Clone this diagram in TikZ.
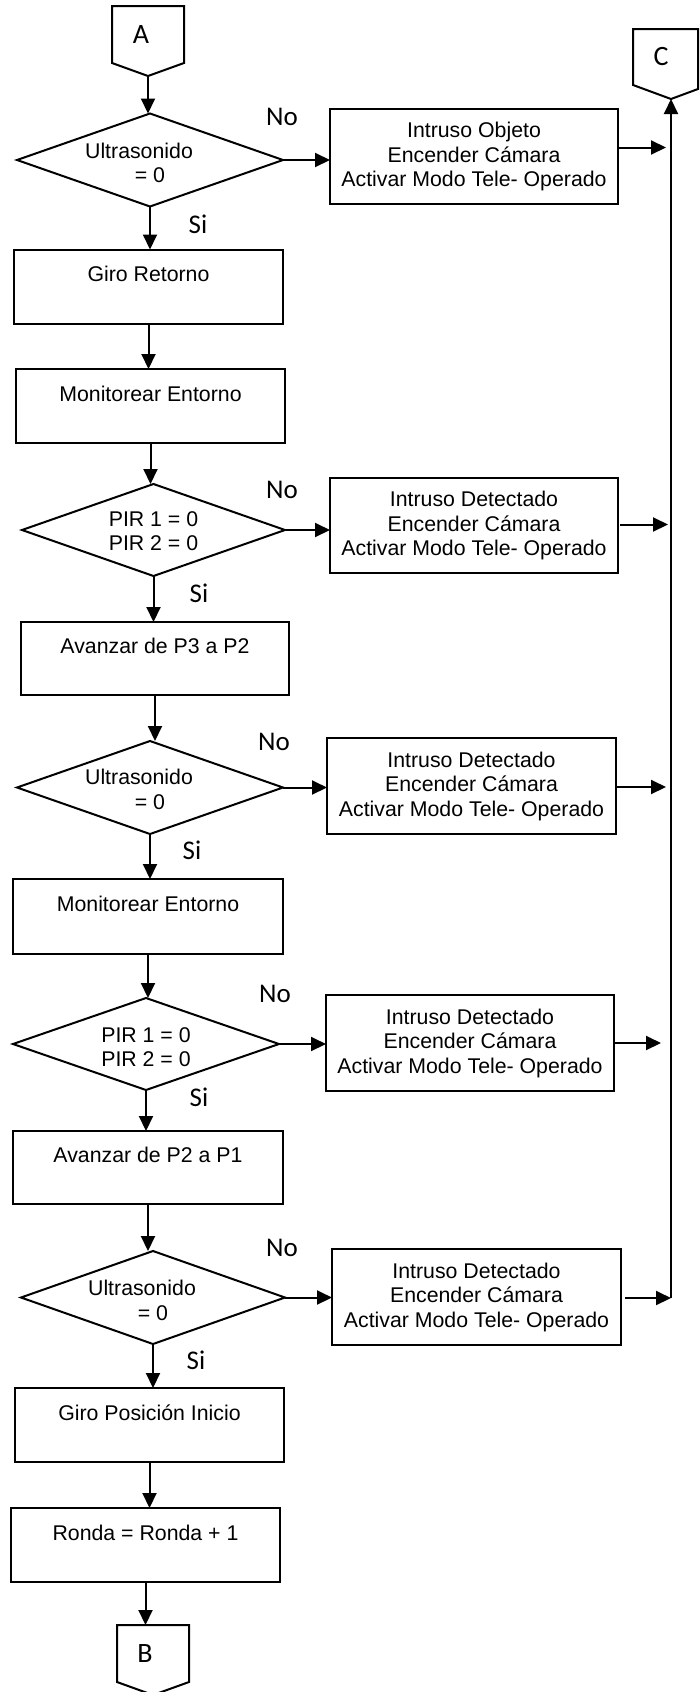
\documentclass[tikz,border=0pt]{standalone}
\usepackage{fontspec}
\setmainfont{Liberation Sans}
\newfontfamily\carlito{Carlito}
\usetikzlibrary{shapes.geometric,arrows.meta,calc}
\tikzset{
  every node/.style={inner sep=0pt,outer sep=0pt},
  txt/.style={align=center,font=\fontsize{21.3}{24.5}\selectfont},
  lbox/.style={txt,draw,line width=2pt,minimum width=269pt,minimum height=74pt},
  rbox/.style={txt,draw,line width=2pt,minimum width=288pt,minimum height=95pt},
  dec/.style={draw,diamond,line width=2pt,minimum width=266pt,minimum height=93pt},
  lab/.style={font=\carlito\fontsize{27}{32}\selectfont},
  conlab/.style={font=\carlito\fontsize{28}{32}\selectfont},
  arr/.style={line width=2pt,-{Triangle[length=15pt,width=14pt]}},
  conn/.style={draw,line width=2pt,line join=miter},
}
\begin{document}
\begin{tikzpicture}[x=1pt,y=-1pt]
\useasboundingbox (0,0) rectangle (699,1692);

% connector A
\node[conlab,minimum width=72pt,minimum height=57pt] (A) at (148,34.5) {A\hspace*{14pt}};
\draw[conn] (A.north west) -- (A.north east) -- (A.south east) -- ($(A.south)+(0,13)$) coordinate (Atip) -- (A.south west) -- cycle;

% connector C
\node[conlab,minimum width=65pt,minimum height=56pt] (C) at (665.5,57) {C\hspace*{9pt}};
\draw[conn] (C.north west) -- (C.north east) -- ($(C.south east)+(0,4)$) -- (671,99) coordinate (Cp) -- (C.south west) -- cycle;

% left column
\node[dec] (D1) at (150,160) {};
\node[txt] (D1t) at ($(D1)+(0,3)$) {Ultrasonido\hspace*{22pt}\\= 0};
\node[lbox] (R1) at (148.5,286.5) {Giro Retorno\\\mbox{}};
\node[lbox] (M1) at (150.5,406) {Monitorear Entorno\\\mbox{}};
\node[dec,minimum width=263pt,minimum height=92pt] (D2) at (153.5,530) {};
\node[txt] (D2t) at ($(D2)+(0,1)$) {PIR 1 = 0\\PIR 2 = 0};
\node[lbox,minimum width=268pt,minimum height=73pt] (V1) at (155,658.5) {Avanzar de P3 a P2\\\mbox{}};
\node[dec] (D3) at (150,787.5) {};
\node[txt] (D3t) at ($(D3)+(0,2)$) {Ultrasonido\hspace*{22pt}\\= 0};
\node[lbox,minimum width=270pt,minimum height=75pt] (M2) at (148,916.5) {Monitorear Entorno\\\mbox{}};
\node[dec,minimum height=92pt] (D4) at (146,1044) {};
\node[txt] (D4t) at ($(D4)+(0,3)$) {PIR 1 = 0\\PIR 2 = 0};
\node[lbox,minimum width=270pt,minimum height=73pt] (V2) at (148,1167.5) {Avanzar de P2 a P1\\\mbox{}};
\node[dec,minimum width=264pt] (D5) at (153,1297.5) {};
\node[txt] (D5t) at ($(D5)+(0,3)$) {Ultrasonido\hspace*{22pt}\\= 0};
\node[lbox] (G2) at (149.5,1425) {Giro Posición Inicio\\\mbox{}};
\node[lbox] (RR) at (145.5,1545) {Ronda = Ronda + 1\\\mbox{}};

% connector B
\node[conlab,minimum width=72pt,minimum height=57pt] (B) at (153,1653.5) {B\hspace*{16pt}};
\draw[conn] (B.north west) -- (B.north east) -- (B.south east) -- ($(B.south)+(0,13)$) -- (B.south west) -- cycle;

% right column
\node[rbox] (B1) at (474,156.5) {Intruso Objeto\\Encender Cámara\\Activar Modo Tele- Operado};
\node[rbox] (B2) at (474,525.5) {Intruso Detectado\\Encender Cámara\\Activar Modo Tele- Operado};
\node[rbox,minimum width=289pt,minimum height=96pt] (B3) at (471.5,786) {Intruso Detectado\\Encender Cámara\\Activar Modo Tele- Operado};
\node[rbox,minimum height=96pt] (B4) at (470,1043) {Intruso Detectado\\Encender Cámara\\Activar Modo Tele- Operado};
\node[rbox,minimum width=289pt,minimum height=96pt] (B5) at (476.5,1297) {Intruso Detectado\\Encender Cámara\\Activar Modo Tele- Operado};

% labels
\node[lab] (no1) at (282,117) {No};
\node[lab] (no2) at (282,490) {No};
\node[lab] (no3) at (274,742) {No};
\node[lab] (no4) at (275,994) {No};
\node[lab] (no5) at (282,1248) {No};
\node[lab] (si1) at (198,224) {Si};
\node[lab] (si2) at (199,593) {Si};
\node[lab] (si3) at (192,850) {Si};
\node[lab] (si4) at (199,1097) {Si};
\node[lab] (si5) at (196,1360) {Si};

% vertical flow
\draw[arr] (Atip) -- (Atip |- D1.north);
\draw[arr] (D1.south) -- (D1.south |- R1.north);
\draw[arr] (R1.south) -- (R1.south |- M1.north);
\draw[arr] (M1.south) -- (M1.south |- D2.north);
\draw[arr] (D2.south) -- (D2.south |- V1.north);
\draw[arr] (V1.south) -- (V1.south |- D3.north);
\draw[arr] (D3.south) -- (D3.south |- M2.north);
\draw[arr] (M2.south) -- (M2.south |- D4.north);
\draw[arr] (D4.south) -- (D4.south |- V2.north);
\draw[arr] (V2.south) -- (V2.south |- D5.north);
\draw[arr] (D5.south) -- (D5.south |- G2.north);
\draw[arr] (G2.south) -- (G2.south |- RR.north);
\draw[arr] (RR.south) -- (RR.south |- B.north);

% No branches
\draw[arr] (D1.east) -- (D1.east -| B1.west);
\draw[arr] (D2.east) -- (D2.east -| B2.west);
\draw[arr] (D3.east) -- (D3.east -| B3.west);
\draw[arr] (D4.east) -- (D4.east -| B4.west);
\draw[arr] (D5.east) -- (D5.east -| B5.west);

% return bus to C
\coordinate (bus) at (671,1298);
\draw[arr] (bus) -- (Cp);
\draw[arr,shorten >=5pt] ($(B1.east)+(0,-9)$) -- ($(B1.east -| bus)+(0,-9)$);
\draw[arr,shorten >=3pt] ($(B2.east)+(2,-1)$) -- ($(B2.east -| bus)+(0,-1)$);
\draw[arr,shorten >=5pt] ($(B3.east)+(1,1)$) -- ($(B3.east -| bus)+(0,1)$);
\draw[arr,shorten >=10pt] (B4.east) -- (B4.east -| bus);
\draw[arr] ($(B5.east)+(4,1)$) -- ($(B5.east -| bus)+(0,1)$);
\end{tikzpicture}
\end{document}
